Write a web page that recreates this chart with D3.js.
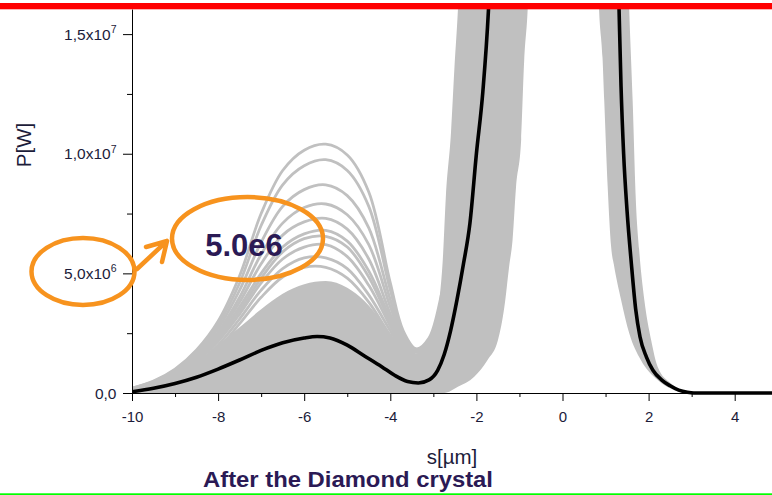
<!DOCTYPE html>
<html>
<head>
<meta charset="utf-8">
<script src="https://cdn.jsdelivr.net/npm/d3@7"></script>
<style>
  html, body { margin: 0; padding: 0; background: #fff; }
  svg { display: block; }
  text { font-family: "Liberation Sans", Arial, sans-serif; }
</style>
</head>
<body>
<svg id="chart" width="772" height="495"></svg>
<script>
// ---- data (power in units of 1e6 W, position s in µm) ----

// position grid shared by the individually visible high shots
const sTrace = [-10, -9.5, -9, -8.5, -8, -7.5, -7, -6.5, -6, -5.5, -5, -4.5, -4, -3.7, -3.4, -3.1, -2.8, -2.6];
const trace1  = [0.20, 0.50, 1.00, 1.80, 3.00, 4.90, 7.50, 9.30, 10.15, 10.40, 9.95, 8.40, 4.60, 2.60, 1.85, 2.30, 4.20, 5.80];
const trace2  = [0.20, 0.48, 0.95, 1.70, 2.85, 4.60, 7.00, 8.70, 9.50, 9.75, 9.30, 7.80, 4.30, 2.50, 1.80, 2.20, 4.00, 5.60];
const trace3  = [0.18, 0.45, 0.90, 1.60, 2.70, 4.30, 6.30, 7.80, 8.50, 8.70, 8.25, 6.90, 3.90, 2.35, 1.75, 2.10, 3.90, 5.50];
const trace4  = [0.18, 0.42, 0.85, 1.50, 2.55, 4.00, 5.80, 7.10, 7.75, 7.90, 7.45, 6.20, 3.60, 2.20, 1.70, 2.05, 3.80, 5.40];
const trace5  = [0.17, 0.40, 0.80, 1.45, 2.45, 3.80, 5.40, 6.60, 7.15, 7.30, 6.85, 5.60, 3.30, 2.10, 1.60, 2.00, 3.70, 5.30];
const trace6  = [0.16, 0.38, 0.75, 1.40, 2.35, 3.60, 5.00, 6.10, 6.65, 6.80, 6.35, 5.10, 3.10, 2.00, 1.55, 1.95, 3.60, 5.20];
const trace7  = [0.15, 0.36, 0.72, 1.35, 2.25, 3.45, 4.80, 5.90, 6.45, 6.55, 6.10, 4.85, 2.95, 1.90, 1.50, 1.90, 3.50, 5.10];
const trace8  = [0.15, 0.35, 0.70, 1.30, 2.15, 3.30, 4.60, 5.60, 6.10, 6.20, 5.70, 4.50, 2.80, 1.85, 1.45, 1.85, 3.40, 5.00];
const trace9  = [0.14, 0.33, 0.65, 1.20, 2.00, 3.10, 4.30, 5.20, 5.65, 5.65, 5.20, 4.10, 2.60, 1.75, 1.40, 1.80, 3.30, 4.90];
const trace10 = [0.13, 0.30, 0.60, 1.10, 1.85, 2.90, 4.00, 4.85, 5.25, 5.25, 4.80, 3.80, 2.40, 1.65, 1.35, 1.75, 3.20, 4.80];
const upperTraces = [trace1, trace2, trace3, trace4, trace5, trace6, trace7, trace8, trace9, trace10];

// upper edge of the dense bundle of shots
const sBandTop = [-10, -9.5, -9, -8.5, -8, -7.5, -7, -6.5, -6, -5.5, -5, -4.6, -4.2, -3.85, -3.6, -3.42, -3.25, -3.1, -2.95, -2.86, -2.78, -2.71, -2.59, -2.51, -2.43, -2.3, -1.5, 0.5, 1.45, 1.55, 1.63, 1.7, 1.78, 1.9, 2.06, 2.21, 2.52, 2.91, 3.2];
const pBandTop = [0.12, 0.38, 0.75, 1.30, 2.00, 2.75, 3.50, 4.15, 4.55, 4.68, 4.40, 3.85, 3.00, 2.15, 1.75, 1.58, 1.75, 2.20, 3.00, 3.90, 5.60, 8.20, 10.9, 13.6, 16.0, 22, 40, 40, 22, 16.0, 12.2, 8.2, 6.0, 3.9, 2.2, 1.1, 0.40, 0.05, 0];

// lower edge of the bundle
const sBandBottom = [-10, -2.75, -2.43, -2.05, -1.74, -1.5, -1.35, -1.24, -1.16, -1.08, -0.96, -0.89, -0.81, -0.7, 0, 0.75, 0.85, 0.93, 0.97, 1.05, 1.13, 1.2, 1.36, 1.55, 1.82, 2.21, 2.6, 2.98, 5];
const pBandBottom = [0, 0, 0.26, 0.68, 1.38, 2.2, 3.6, 5.28, 6.4, 8.6, 10.6, 13.9, 16.0, 22, 40, 22, 16.0, 14.0, 12.2, 8.6, 6.1, 5.3, 3.9, 2.5, 1.38, 0.54, 0.12, 0, 0];

// averaged profile
const sMean = [-10, -9.5, -9, -8.5, -8, -7.5, -7, -6.5, -6, -5.7, -5.4, -5, -4.6, -4.2, -3.9, -3.6, -3.35, -3.1, -2.9, -2.75, -2.6, -2.45, -2.3, -2.15, -2.0, -1.85, -1.72, -1.55, -1.2, -0.5, 0.3, 0.9, 1.2, 1.31, 1.36, 1.42, 1.5, 1.6, 1.7, 1.8, 1.95, 2.1, 2.3, 2.5, 2.7, 2.9, 3.05, 5];
const pMean = [0.05, 0.2, 0.4, 0.66, 1.0, 1.38, 1.78, 2.1, 2.3, 2.36, 2.3, 2.0, 1.55, 1.1, 0.74, 0.48, 0.42, 0.55, 0.95, 1.6, 2.6, 3.9, 5.4, 7.1, 10.0, 12.6, 16.0, 24, 40, 55, 55, 40, 24, 16.3, 12.8, 10.0, 7.6, 5.4, 3.5, 2.35, 1.5, 0.95, 0.55, 0.3, 0.12, 0.03, 0, 0];

// axes
const xTicks = [-10, -8, -6, -4, -2, 0, 2, 4];
const xTickLabels = ["-10", "-8", "-6", "-4", "-2", "0", "2", "4"];
const xMinor = [-9, -7, -5, -3, -1, 1, 3];
const yTicks = [0, 5, 10, 15];
const yTickMantissa = ["0,0", "5,0x10", "1,0x10", "1,5x10"];
const yTickExponent = ["", "6", "7", "7"];
const yMinor = [2.5, 7.5, 12.5];

// ---- drawing ----
const svg = d3.select("#chart");
const x = d3.scaleLinear().domain([-10, 5]).range([132, 132 + 15 * 43.05]);
const y = d3.scaleLinear().domain([0, 16.05]).range([393, 9]);

const GRAY = "#c0c0c0";
const ORANGE = "#f7931e";
const INK = "#1c1c3a";
const PURPLE = "#2b1a55";

const defs = svg.append("defs");
defs.append("clipPath").attr("id", "plot-clip")
  .append("rect").attr("x", 132).attr("y", 9).attr("width", 772 - 132).attr("height", 397 - 9);

const zip = (xs, ys) => xs.map((s, i) => [s, ys[i]]);

// region above the lower edge of the bundle
defs.append("clipPath").attr("id", "band-clip")
  .append("path")
  .attr("d", d3.area().curve(d3.curveMonotoneX)
    .x(d => x(d[0])).y0(-200).y1(d => y(d[1]))(zip(sBandBottom, pBandBottom)));

const plot = svg.append("g").attr("clip-path", "url(#plot-clip)");

// bundle of shots
plot.append("g").attr("clip-path", "url(#band-clip)")
  .append("path")
  .attr("d", d3.area().curve(d3.curveMonotoneX)
    .x(d => x(d[0])).y0(y(0)).y1(d => y(d[1]))(zip(sBandTop, pBandTop)))
  .attr("fill", GRAY);

// individual high shots
const traceLine = d3.line().curve(d3.curveCatmullRom.alpha(0.5))
  .x(d => x(d[0])).y(d => y(d[1]));
plot.selectAll("path.trace").data(upperTraces).join("path")
  .attr("class", "trace")
  .attr("d", t => traceLine(zip(sTrace, t)))
  .attr("fill", "none").attr("stroke", GRAY).attr("stroke-width", 2.8);

// mean profile
plot.append("path")
  .attr("d", d3.line().curve(d3.curveMonotoneX).x(d => x(d[0])).y(d => y(d[1]))(zip(sMean, pMean)))
  .attr("fill", "none").attr("stroke", "#000").attr("stroke-width", 3.6)
  .attr("stroke-linejoin", "round");

// y axis
const yAxisG = svg.append("g").attr("transform", "translate(132,0)");
yAxisG.call(d3.axisLeft(y).tickValues(yTicks).tickSize(9).tickSizeOuter(0).tickFormat(""));
const yMinorG = svg.append("g").attr("transform", "translate(132,0)");
yMinorG.call(d3.axisLeft(y).tickValues(yMinor).tickSize(5).tickSizeOuter(0).tickFormat(""));
yMinorG.select(".domain").remove();

const yLab = svg.append("g").selectAll("text").data(yTicks).join("text")
  .attr("x", 116.5).attr("y", d => y(d) + 5.5)
  .attr("text-anchor", "end").attr("font-size", 15.5).attr("fill", INK);
yLab.append("tspan").text((d, i) => yTickMantissa[i]);
yLab.append("tspan").attr("dy", -6.5).attr("font-size", 10.5).text((d, i) => yTickExponent[i]);

// x axis
const xAxisG = svg.append("g").attr("transform", "translate(0,393)");
xAxisG.call(d3.axisBottom(x).tickValues(xTicks).tickSize(8).tickSizeOuter(0).tickFormat(""));
const xMinorG = svg.append("g").attr("transform", "translate(0,393)");
xMinorG.call(d3.axisBottom(x).tickValues(xMinor).tickSize(4).tickSizeOuter(0).tickFormat(""));
xMinorG.select(".domain").remove();

svg.append("g").selectAll("text").data(xTicks).join("text")
  .attr("x", d => x(d) + 0.5).attr("y", 422)
  .attr("text-anchor", "middle").attr("font-size", 15).attr("fill", INK)
  .text((d, i) => xTickLabels[i]);

svg.selectAll(".tick line, .domain").attr("stroke", "#000");

// axis titles
svg.append("text").attr("x", 452).attr("y", 464).attr("text-anchor", "middle")
  .attr("font-size", 20.5).attr("fill", INK).text("s[µm]");
svg.append("text").attr("transform", "translate(31,145) rotate(-90)").attr("text-anchor", "middle")
  .attr("font-size", 20.5).attr("fill", INK).text("P[W]");

// caption
svg.append("text").attr("x", 348).attr("y", 487).attr("text-anchor", "middle")
  .attr("font-size", 22).attr("font-weight", "bold").attr("fill", PURPLE)
  .attr("textLength", 290).attr("lengthAdjust", "spacingAndGlyphs")
  .text("After the Diamond crystal");

// annotation: circled tick label pointing to its value
const ann = svg.append("g").attr("fill", "none").attr("stroke", ORANGE)
  .attr("stroke-width", 4.5).attr("stroke-linecap", "round").attr("stroke-linejoin", "round");
ann.append("ellipse").attr("cx", 83).attr("cy", 271.5).attr("rx", 51.5).attr("ry", 33.5);
ann.append("ellipse").attr("cx", 247.5).attr("cy", 238.5).attr("rx", 75.5).attr("ry", 41.5);
ann.append("path").attr("d", "M137,269 L167,241 M146,247 L167,241 L162,262");
svg.append("text").attr("x", 244).attr("y", 256).attr("text-anchor", "middle")
  .attr("font-size", 31).attr("font-weight", "bold").attr("fill", PURPLE).text("5.0e6");

// slide rules
svg.append("rect").attr("x", 0).attr("y", 3).attr("width", 772).attr("height", 6.3).attr("fill", "#ff0000");
svg.append("rect").attr("x", 0).attr("y", 493.3).attr("width", 772).attr("height", 1.7).attr("fill", "#00ff00");
</script>
</body>
</html>
